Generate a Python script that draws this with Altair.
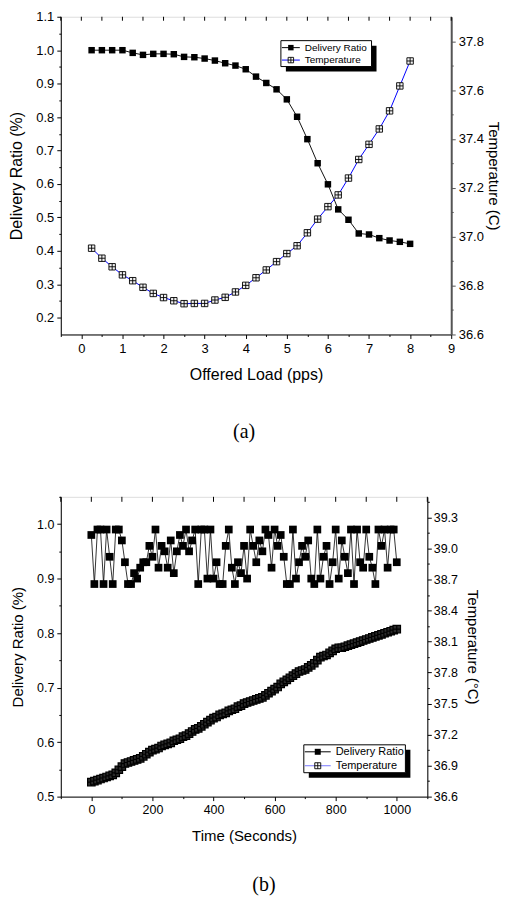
import altair as alt
import pandas as pd

# ---------------- data: panel (a) ----------------
load_pps = [0.25, 0.5, 0.75, 1.0, 1.25, 1.5, 1.75, 2.0, 2.25, 2.5, 2.75, 3.0,
            3.25, 3.5, 3.75, 4.0, 4.25, 4.5, 4.75, 5.0, 5.25, 5.5, 5.75, 6.0,
            6.25, 6.5, 6.75, 7.0, 7.25, 7.5, 7.75, 8.0]
ratio_a = [1.0, 1.0, 1.0, 1.0, 0.992, 0.986, 0.989, 0.989, 0.988, 0.980, 0.979, 0.975,
           0.969, 0.961, 0.954, 0.943, 0.921, 0.902, 0.883, 0.853, 0.801, 0.734, 0.662, 0.599,
           0.524, 0.493, 0.452, 0.449, 0.438, 0.431, 0.427, 0.421]
temp_a = [36.953, 36.912, 36.877, 36.844, 36.820, 36.793, 36.768, 36.751, 36.738, 36.726, 36.727, 36.727,
          36.741, 36.752, 36.774, 36.801, 36.832, 36.864, 36.898, 36.931, 36.963, 37.016, 37.072, 37.123,
          37.171, 37.240, 37.316, 37.378, 37.441, 37.515, 37.617, 37.719]

# ---------------- data: panel (b) ----------------
time_s = [0, 10, 20, 30, 40, 50, 60, 70, 80, 90, 100, 110, 120, 130, 140, 150, 160, 170, 180, 190,
          200, 210, 220, 230, 240, 250, 260, 270, 280, 290, 300, 310, 320, 330, 340, 350, 360, 370, 380, 390,
          400, 410, 420, 430, 440, 450, 460, 470, 480, 490, 500, 510, 520, 530, 540, 550, 560, 570, 580, 590,
          600, 610, 620, 630, 640, 650, 660, 670, 680, 690, 700, 710, 720, 730, 740, 750, 760, 770, 780, 790,
          800, 810, 820, 830, 840, 850, 860, 870, 880, 890, 900, 910, 920, 930, 940, 950, 960, 970, 980, 990,
          1000]
ratio_b = [0.98, 0.89, 0.99, 0.99, 0.89, 0.99, 0.94, 0.89, 0.99, 0.99, 0.97, 0.93, 0.89, 0.89, 0.91, 0.90,
           0.92, 0.93, 0.93, 0.96, 0.94, 0.99, 0.92, 0.96, 0.95, 0.92, 0.97, 0.91, 0.95, 0.98, 0.96, 0.99,
           0.95, 0.97, 0.99, 0.89, 0.99, 0.99, 0.90, 0.99, 0.90, 0.93, 0.89, 0.89, 0.96, 0.99, 0.92, 0.89,
           0.93, 0.91, 0.96, 0.90, 0.99, 0.96, 0.93, 0.97, 0.95, 0.99, 0.98, 0.92, 0.99, 0.96, 0.98, 0.94,
           0.89, 0.89, 0.99, 0.90, 0.93, 0.96, 0.94, 0.97, 0.90, 0.89, 0.99, 0.90, 0.94, 0.96, 0.89, 0.93,
           0.99, 0.90, 0.97, 0.94, 0.91, 0.99, 0.89, 0.99, 0.93, 0.92, 0.99, 0.94, 0.92, 0.89, 0.99, 0.96,
           0.99, 0.92, 0.99, 0.99, 0.93]
temp_b = [36.74, 36.75, 36.76, 36.77, 36.78, 36.79, 36.80, 36.81, 36.83, 36.86, 36.89, 36.92, 36.93, 36.94,
          36.95, 36.96, 36.97, 36.99, 37.01, 37.03, 37.05, 37.06, 37.07, 37.09, 37.10, 37.11, 37.12, 37.14,
          37.15, 37.16, 37.18, 37.19, 37.21, 37.23, 37.25, 37.26, 37.28, 37.30, 37.32, 37.34, 37.36, 37.37,
          37.39, 37.40, 37.41, 37.43, 37.44, 37.45, 37.47, 37.48, 37.50, 37.51, 37.52, 37.53, 37.54, 37.55,
          37.56, 37.58, 37.60, 37.62, 37.64, 37.66, 37.69, 37.71, 37.73, 37.75, 37.77, 37.79, 37.81, 37.82,
          37.83, 37.85, 37.87, 37.89, 37.92, 37.95, 37.96, 37.97, 37.99, 38.01, 38.03, 38.04, 38.04, 38.05,
          38.06, 38.07, 38.08, 38.09, 38.10, 38.11, 38.12, 38.13, 38.14, 38.15, 38.16, 38.17, 38.18, 38.19,
          38.20, 38.21, 38.22]

series_names = ["Delivery Ratio", "Temperature"]

FONT = "Liberation Sans"
SERIF = "Liberation Serif"
CROSS = "M-1,-1H1V1H-1ZM0,-1V1M-1,0H1"


def tick_values(start, stop, step):
    n = int(round((stop - start) / step))
    return [round(start + i * step, 6) for i in range(n + 1)]


def major_axis(values, test, fmt, title, orient, lsize, tsize, lpad, tpad, **kw):
    return alt.Axis(
        values=values, format=fmt, title=title, orient=orient,
        labelExpr=f"({test}) ? datum.label : ''",
        tickSize={"condition": {"test": test, "value": 4}, "value": 2},
        labelFont=FONT, labelFontSize=lsize, titleFont=FONT, titleFontSize=tsize,
        titleFontWeight="normal", labelPadding=lpad, titlePadding=tpad,
        labelOverlap=False, labelBound=False, labelFlush=False, grid=False,
        labelColor="black", titleColor="black", tickColor=kw.pop("tickColor", "black"),
        domainColor=kw.pop("domainColor", "black"), **kw)


def one():
    return alt.Data(values=[{"k": 1}])


def top_ticks(values, field, xenc, length):
    df = pd.DataFrame({field: values})
    return alt.Chart(df).mark_rule(color="black", strokeWidth=1).encode(
        x=xenc, y=alt.value(0), y2=alt.value(length))


def legend_layers(box, rows, fs, line_colors, msize):
    # box = (x1, y1, x2, y2) in pixels of the plot area; rows = (y1, y2, sample width)
    x1, y1, x2, y2 = box
    layers = [
        alt.Chart(one()).mark_rect(color="black").encode(
            x=alt.value(x1 + 5), x2=alt.value(x2 + 5), y=alt.value(y1 + 5), y2=alt.value(y2 + 5)),
        alt.Chart(one()).mark_rect(fill="white", stroke="black", strokeWidth=1).encode(
            x=alt.value(x1), x2=alt.value(x2), y=alt.value(y1), y2=alt.value(y2)),
    ]
    sample_w = rows[2]
    for i, name in enumerate(series_names):
        yy = rows[i]
        layers.append(alt.Chart(one()).mark_rule(color=line_colors[i], strokeWidth=1).encode(
            x=alt.value(x1 + 1), x2=alt.value(x1 + 1 + sample_w), y=alt.value(yy)))
        if i == 0:
            layers.append(alt.Chart(one()).mark_point(shape="square", filled=True, color="black",
                                                      size=msize, opacity=1).encode(
                x=alt.value(x1 + 1 + sample_w / 2), y=alt.value(yy)))
        else:
            layers.append(alt.Chart(one()).mark_point(shape=CROSS, fill="white", stroke="black",
                                                      strokeWidth=0.9, size=msize, opacity=1,
                                                      fillOpacity=1).encode(
                x=alt.value(x1 + 1 + sample_w / 2), y=alt.value(yy)))
        layers.append(alt.Chart(one()).mark_text(text=name, font=FONT, fontSize=fs, align="left",
                                                 baseline="middle", color="black").encode(
            x=alt.value(x1 + sample_w + 6), y=alt.value(yy)))
    return layers


# ---------------- panel (a) ----------------
df_a = pd.DataFrame({"load": load_pps, "ratio": ratio_a, "temp": temp_a})
xs_a = alt.Scale(domain=[-0.5, 9], nice=False, zero=False)
yl_a = alt.Scale(domain=[0.15, 1.1], nice=False, zero=False)
yr_a = alt.Scale(domain=[36.6, 37.9], nice=False, zero=False)

x_axis_a = major_axis(tick_values(-0.5, 9, 0.5), "abs(datum.value - round(datum.value)) < 1e-6", ".0f",
                      "Offered Load (pps)", "bottom", 13, 16, 4, 11)
yl_axis_a = major_axis(tick_values(0.2, 1.1, 0.05), "abs(datum.value*10 - round(datum.value*10)) < 1e-6",
                       ".1f", "Delivery Ratio (%)", "left", 13, 16, 3, 11)
yr_axis_a = major_axis(tick_values(36.6, 37.8, 0.1), "abs(datum.value*5 - round(datum.value*5)) < 1e-6",
                       ".1f", "Temperature (C)", "right", 13, 15, 3, 2,
                       domainColor="#555555", domainWidth=2, tickColor="#555555")

xa = alt.X("load:Q", scale=xs_a, axis=x_axis_a)
base_a = alt.Chart(df_a)
a_dr_line = base_a.mark_line(color="#111111", strokeWidth=1).encode(
    x=xa, y=alt.Y("ratio:Q", scale=yl_a, axis=yl_axis_a))
a_dr_pts = base_a.mark_point(shape="square", filled=True, color="black", size=42, opacity=1).encode(
    x=xa, y=alt.Y("ratio:Q", scale=yl_a, axis=None))
a_t_line = base_a.mark_line(color="#0000ff", strokeWidth=1).encode(
    x=xa, y=alt.Y("temp:Q", scale=yr_a, axis=yr_axis_a))
a_t_pts = base_a.mark_point(shape=CROSS, fill="#f2f2f2", stroke="black", strokeWidth=0.9, size=42,
                            opacity=1, fillOpacity=1).encode(
    x=xa, y=alt.Y("temp:Q", scale=yr_a, axis=None))

panel_a = alt.layer(
    a_dr_line, a_dr_pts, a_t_line, a_t_pts,
    top_ticks(tick_values(-0.5, 9, 0.5), "load", xa, 4),
    *legend_layers((221, 24, 312, 50), (31, 43.5, 18), 10, ["black", "#0000ff"], 30)
).resolve_scale(y="independent").properties(
    width=392, height=319,
    title=alt.TitleParams("(a)", orient="bottom", font=SERIF, fontSize=20, fontWeight="normal",
                          color="black", offset=40, frame="group", dx=-12))

# ---------------- panel (b) ----------------
df_b = pd.DataFrame({"time": time_s, "ratio": ratio_b, "temp": temp_b})
xs_b = alt.Scale(domain=[-100, 1100], nice=False, zero=False)
yl_b = alt.Scale(domain=[0.5, 1.05], nice=False, zero=False)
yr_b = alt.Scale(domain=[36.6, 39.5], nice=False, zero=False)

x_axis_b = major_axis(tick_values(-100, 1100, 100),
                      "datum.value % 200 == 0 && datum.value >= 0 && datum.value <= 1000", ".0f",
                      "Time (Seconds)", "bottom", 12.5, 15, 3, 13)
yl_axis_b = major_axis(tick_values(0.5, 1.05, 0.05), "abs(datum.value*10 - round(datum.value*10)) < 1e-6",
                       ".1f", "Delivery Ratio (%)", "left", 12.5, 15, 3, 11)
yr_axis_b = major_axis(tick_values(36.6, 39.45, 0.15),
                       "abs((datum.value-36.6)/0.3 - round((datum.value-36.6)/0.3)) < 1e-6",
                       ".1f", "Temperature (°C)", "right", 12.5, 15, 2, 7)

xb = alt.X("time:Q", scale=xs_b, axis=x_axis_b)
base_b = alt.Chart(df_b)
b_dr_line = base_b.mark_line(color="black", strokeWidth=0.8).encode(
    x=xb, y=alt.Y("ratio:Q", scale=yl_b, axis=yl_axis_b))
b_dr_pts = base_b.mark_point(shape="square", filled=True, color="black", size=60, opacity=1).encode(
    x=xb, y=alt.Y("ratio:Q", scale=yl_b, axis=None))
b_t_line = base_b.mark_line(color="#7777ff", strokeWidth=1).encode(
    x=xb, y=alt.Y("temp:Q", scale=yr_b, axis=yr_axis_b))
b_t_pts = base_b.mark_point(shape=CROSS, fill="#2a2a2a", stroke="black", strokeWidth=1.2, size=56,
                            opacity=1, fillOpacity=1).encode(
    x=xb, y=alt.Y("temp:Q", scale=yr_b, axis=None))

panel_b = alt.layer(
    b_dr_line, b_dr_pts, b_t_line, b_t_pts,
    top_ticks(tick_values(-100, 1100, 100), "time", xb, 5),
    *legend_layers((244, 249, 346, 277), (256, 270, 26), 11, ["black", "#7777ff"], 36)
).resolve_scale(y="independent").properties(
    width=368, height=301,
    title=alt.TitleParams("(b)", orient="bottom", font=SERIF, fontSize=20, fontWeight="normal",
                          color="black", offset=31, frame="group", dx=20))

chart = alt.vconcat(panel_a, panel_b, spacing=47).properties(
    padding={"left": 0, "top": 0, "right": 5, "bottom": 0}
).configure_view(stroke="black", strokeWidth=1).configure(background="white")

chart.save("out.html", embed_options={"renderer": "svg", "actions": False})
